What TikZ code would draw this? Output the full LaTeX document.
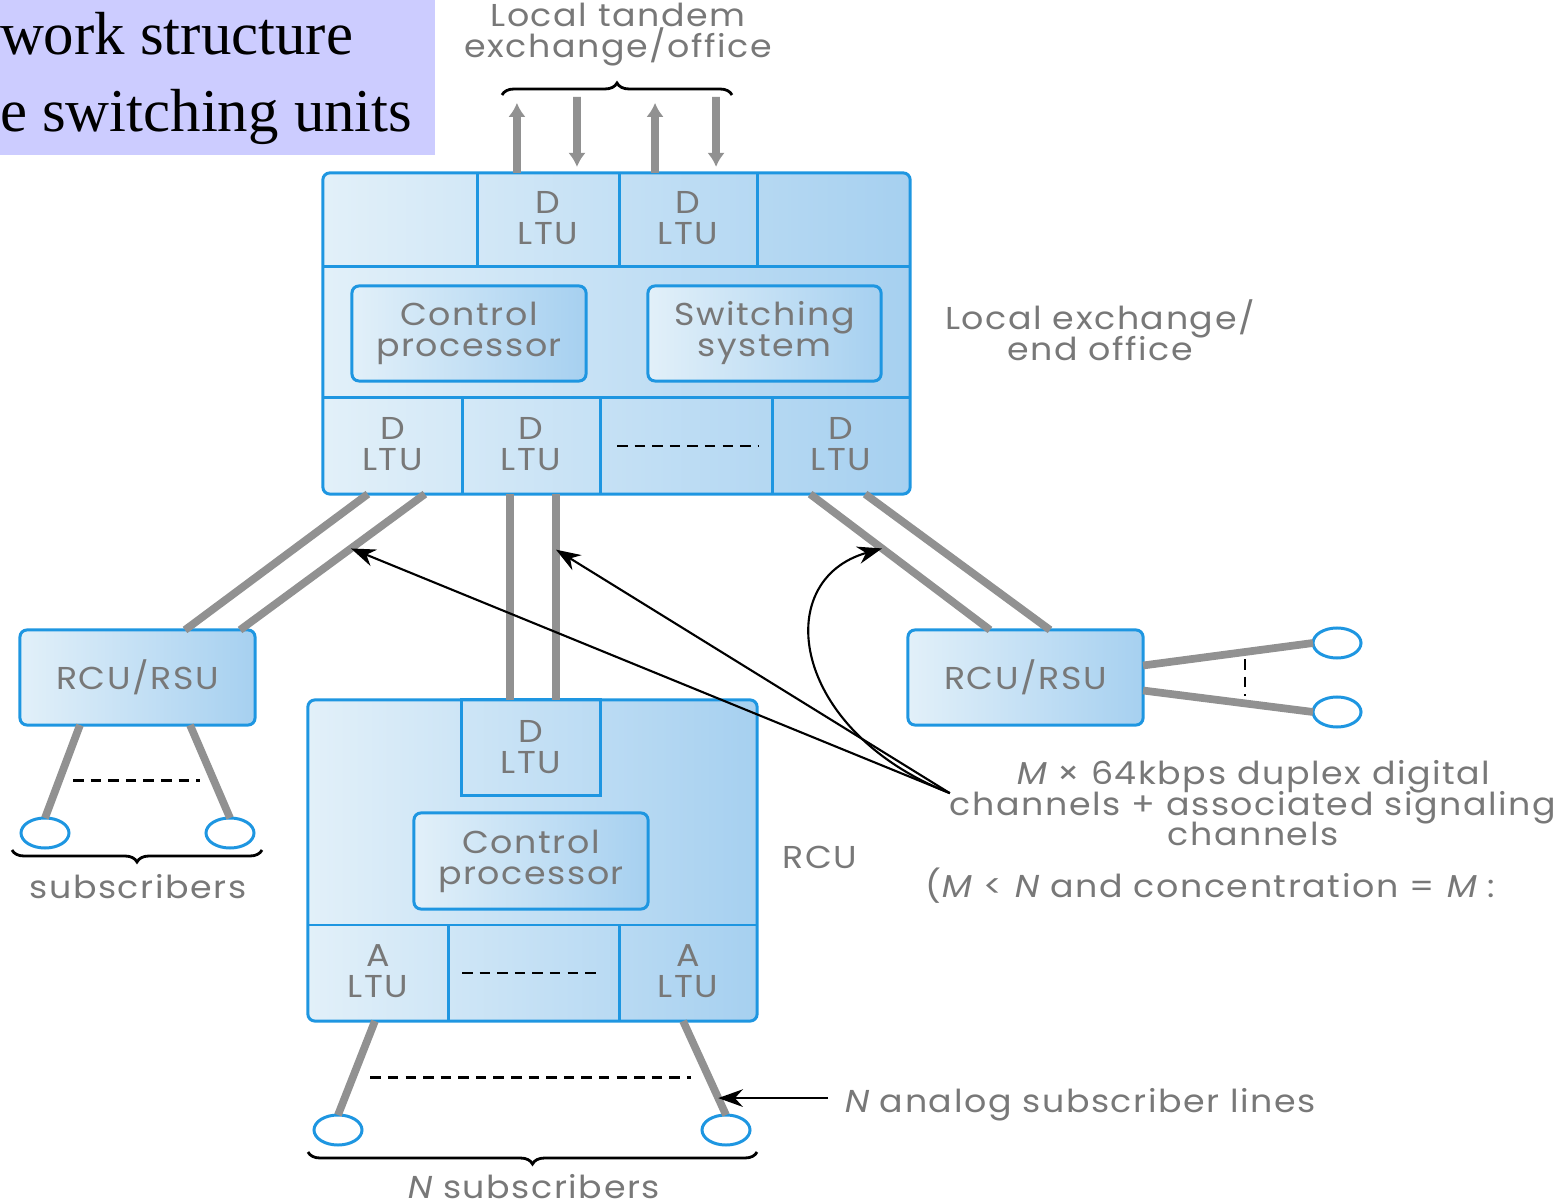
\documentclass[tikz,border=0pt]{standalone}
\usepackage{fontspec}
\setmainfont{Liberation Serif}
\newfontfamily\figfont[FakeStretch=1.1, LetterSpace=5, ItalicFont=Poppins, ItalicFeatures={FakeSlant=0.2, FakeStretch=1.1, LetterSpace=5}]{Poppins}
\usetikzlibrary{arrows.meta,shapes.geometric,decorations.pathreplacing}
\definecolor{boxblue}{RGB}{30,150,225}
\definecolor{lightfill}{RGB}{226,240,249}
\definecolor{darkfill}{RGB}{166,208,240}
\definecolor{titlefill}{RGB}{204,204,255}
\definecolor{figgray}{RGB}{120,120,120}
\definecolor{trunkgray}{RGB}{145,145,145}

\begin{document}
\lineskiplimit=-10pt\relax
\begin{tikzpicture}[x=0.01cm, y=-0.01cm,
    every node/.style={inner sep=0pt, outer sep=0pt},
    unit/.style={draw=boxblue, line width=0.85pt, rounded corners=2pt, left color=lightfill, right color=darkfill},
    cell/.style={draw=boxblue, line width=0.85pt},
    lbl/.style={text=figgray, font=\figfont\fontsize{9}{8.8}\selectfont, align=center},
    trunk/.style={draw=trunkgray, line width=2.2pt},
    sub/.style={ellipse, draw=boxblue, fill=white, line width=0.85pt, minimum width=0.48cm, minimum height=0.3cm},
    note/.style={-{Stealth[length=7pt,width=5pt]}, line width=0.6pt},
    gap/.style={dash pattern=on 3pt off 2pt, line width=0.8pt},
    brc/.style={decorate, decoration={brace, amplitude=0.12cm}, line width=0.8pt}]
        \useasboundingbox (0,0) rectangle (1558,1204);

        \fill[titlefill] (0,0) rectangle (435,155);
        \node[anchor=base west, font=\fontsize{17.3}{21}\selectfont] (title1) at (0,55) {work structure};
        \node[anchor=base west, font=\fontsize{17.3}{21}\selectfont] (title2) at (0,132) {e switching units};

        \node[lbl, anchor=north] (tandem) at (618,3) {Local tandem\\exchange/office};
        \draw[brc] (502,95) -- (732,95);

        \node[unit, minimum width=5.87cm, minimum height=3.21cm] (main) at (616.5,333.5) {};
        \draw[cell] (323,267) -- (910,267) (323,398) -- (910,398);
        \draw[cell] (477,173) -- (477,267) (619,173) -- (619,267) (757,173) -- (757,267);
        \draw[cell] (462,398) -- (462,494) (600,398) -- (600,494) (772,398) -- (772,494);
        \node[lbl] (tltu1) at (548,218) {D\\LTU};
        \node[lbl] (tltu2) at (688,218) {D\\LTU};
        \node[unit, lbl, minimum width=2.34cm, minimum height=0.95cm] (cpu) at (469,333.5) {Control\\processor};
        \node[unit, lbl, minimum width=2.33cm, minimum height=0.95cm] (switch) at (764.5,333.5) {Switching\\system};
        \node[lbl] (bltu1) at (392.5,444) {D\\LTU};
        \node[lbl] (bltu2) at (531,444) {D\\LTU};
        \node[lbl] (bltu4) at (841,444) {D\\LTU};
        \draw[gap] (617,446) -- (758,446);
        \node[lbl] (exlbl) at (1100,330) {Local exchange/\\end office};

        \draw[trunk, -{Latex[length=4pt,width=5pt]}] ([xshift=1.94cm]main.north west) -- ++(0,-70);
        \draw[trunk, -{Latex[length=4pt,width=5pt]}] ([xshift=3.32cm]main.north west) -- ++(0,-70);
        \coordinate (tin1) at (577,97);
        \coordinate (tin2) at (716,97);
        \draw[trunk, -{Latex[length=4pt,width=5pt]}] (tin1) -- ([xshift=2.54cm, yshift=0.06cm]main.north west);
        \draw[trunk, -{Latex[length=4pt,width=5pt]}] (tin2) -- ([xshift=3.93cm, yshift=0.06cm]main.north west);

        \node[unit, lbl, minimum width=2.35cm, minimum height=0.95cm] (lrsu) at (137.5,677.5) {RCU/RSU};
        \node[unit, lbl, minimum width=2.35cm, minimum height=0.95cm] (rrsu) at (1025.5,677.5) {RCU/RSU};

        \node[unit, minimum width=4.49cm, minimum height=3.21cm] (rcu) at (532.5,860.5) {};
        \node[cell, lbl, minimum width=1.38cm, minimum height=0.95cm] (rltu) at (531,747.5) {D\\LTU};
        \node[unit, lbl, minimum width=2.34cm, minimum height=0.96cm] (rcpu) at (531,861) {Control\\processor};
        \draw[cell] (308,925) -- (757,925) (448,925) -- (448,1021) (619,925) -- (619,1021);
        \node[lbl] (altu1) at (378,971) {A\\LTU};
        \node[lbl] (altu2) at (688,971) {A\\LTU};
        \draw[gap] (462,973) -- (602,973);
        \node[lbl, anchor=base] (rculbl) at (820,868) {RCU};

        \draw[trunk] ([xshift=0.45cm]main.south west) -- ([xshift=1.65cm]lrsu.north west);
        \draw[trunk] ([xshift=1.02cm]main.south west) -- coordinate[pos=0.4] (lhit) ([xshift=2.20cm]lrsu.north west);
        \draw[trunk] ([xshift=1.87cm]main.south west) -- ([xshift=2.02cm]rcu.north west);
        \draw[trunk] ([xshift=2.33cm]main.south west) -- coordinate[pos=0.27] (mhit) ([xshift=2.48cm]rcu.north west);
        \draw[trunk] ([xshift=4.87cm]main.south west) -- coordinate[pos=0.4] (rhit) ([xshift=0.82cm]rrsu.north west);
        \draw[trunk] ([xshift=5.42cm]main.south west) -- ([xshift=1.42cm]rrsu.north west);

        \node[sub] (ls1) at (45,833) {};
        \node[sub] (ls2) at (230,833) {};
        \draw[trunk] ([xshift=0.6cm]lrsu.south west) -- coordinate[pos=0.6] (la) (ls1.north);
        \draw[trunk] ([xshift=1.7cm]lrsu.south west) -- coordinate[pos=0.6] (lb) (ls2.north);
        \draw[gap, shorten <=4pt, shorten >=4pt] (la) -- (lb);
        \draw[brc] (262,850) -- (12,850);
        \node[lbl, anchor=base] (lsubs) at (138,898) {subscribers};

        \node[sub] (rs1) at (1337,643) {};
        \node[sub] (rs2) at (1337,712) {};
        \draw[trunk] ([yshift=0.12cm]rrsu.east) -- coordinate[pos=0.6] (ra) (rs1.west);
        \draw[trunk] ([yshift=-0.13cm]rrsu.east) -- coordinate[pos=0.6] (rb) (rs2.west);
        \draw[gap, shorten <=2pt, shorten >=2pt] (ra) -- (rb);

        \node[sub] (ns1) at (338,1130) {};
        \node[sub] (ns2) at (726,1130) {};
        \draw[trunk] ([xshift=0.67cm]rcu.south west) -- coordinate[pos=0.6] (na) (ns1.north);
        \draw[trunk] ([xshift=3.75cm]rcu.south west) -- coordinate[pos=0.6] (nb) coordinate[pos=0.82] (nhit) (ns2.north);
        \draw[gap, shorten <=5pt, shorten >=5pt] (na) -- (nb);
        \draw[brc] (757,1152) -- (308,1152);
        \node[lbl, anchor=base] (nsubs) at (533,1198) {\textit{N} subscribers};

        \node[lbl, anchor=base west] (nlines) at (843,1112) {\textit{N} analog subscriber lines};
        \draw[note] ([xshift=-0.15cm]nlines.west |- nhit) -- (nhit);

        \node[lbl, anchor=north] (chan) at (1253,760) {\textit{M} × 64kbps duplex digital\\channels + associated signaling\\channels};
        \node[lbl, anchor=base west] (conc) at (925,897) {(\textit{M} < \textit{N} and concentration = \textit{M} :};
        \draw[note] ([yshift=0.1cm]chan.west) -- (lhit);
        \draw[note] ([yshift=0.1cm]chan.west) -- (mhit);
        \draw[note] ([yshift=0.1cm]chan.west) .. controls (790,730) and (770,580) .. (rhit);
      \end{tikzpicture}
\end{document}
